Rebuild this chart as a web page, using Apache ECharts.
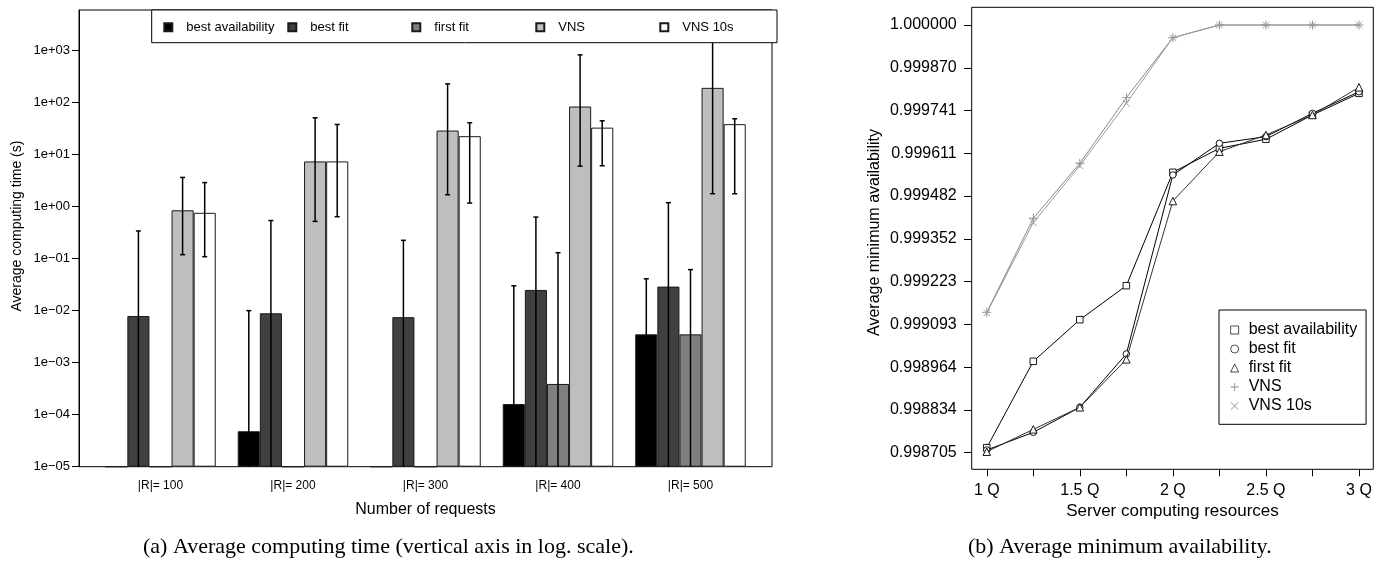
<!DOCTYPE html>
<html><head><meta charset="utf-8">
<script src="https://cdn.jsdelivr.net/npm/echarts@6/dist/echarts.min.js"></script>
<style>html,body{margin:0;padding:0;background:#fff}#c{width:1387px;height:562px}</style>
</head><body><div id="c"></div>
<script>
// ---------- Left chart (a): average computing time (log scale) ----------
const categories = ['|R|= 100', '|R|= 200', '|R|= 300', '|R|= 400', '|R|= 500'];
const barNames = ['best availability', 'best fit', 'first fit', 'VNS', 'VNS 10s'];
const bestAvail = [1e-5, 4.8e-5, 1e-5, 1.6e-4, 3.5e-3];
const bestFit   = [7.9e-3, 8.9e-3, 7.5e-3, 2.5e-2, 2.9e-2];
const firstFit  = [1e-5, 1e-5, 1e-5, 3.9e-4, 3.5e-3];
const vns       = [0.85, 7.4, 29, 84, 192];
const vns10     = [0.76, 7.4, 22.6, 33, 38.5];
// error bar upper / lower ends (0 = extends below the axis, null = no bar)
const bestAvailHi = [null, 0.01, null, 0.030, 0.041];
const bestAvailLo = [null, 0, null, 0, 0];
const bestFitHi   = [0.34, 0.54, 0.225, 0.63, 1.19];
const bestFitLo   = [0, 0, 0, 0, 0];
const firstFitHi  = [null, null, null, 0.13, 0.0615];
const firstFitLo  = [null, null, null, 0, 0];
const vnsHi       = [3.64, 51, 229, 826, 1723];
const vnsLo       = [0.119, 0.52, 1.69, 6.0, 1.77];
const vns10Hi     = [2.9, 38, 41, 44.6, 48.9];
const vns10Lo     = [0.109, 0.64, 1.17, 6.1, 1.77];
const leftTickExps   = [-5, -4, -3, -2, -1, 0, 1, 2, 3];
const leftTickLabels = ['1e\u221205', '1e\u221204', '1e\u221203', '1e\u221202', '1e\u221201', '1e+00', '1e+01', '1e+02', '1e+03'];

// ---------- Right chart (b): average minimum availability ----------
const resources = [1, 1.25, 1.5, 1.75, 2, 2.25, 2.5, 2.75, 3];
const lineNames = ['best availability', 'best fit', 'first fit', 'VNS', 'VNS 10s'];
const availBestAvail = [0.9987202, 0.9989817, 0.9991077, 0.9992107, 0.999554, 0.9996267, 0.999654, 0.9997275, 0.9997931];
const availBestFit   = [0.9987132, 0.9987667, 0.9988424, 0.999004, 0.999546, 0.9996417, 0.999662, 0.9997326, 0.999798];
const availFirstFit  = [0.998708, 0.9987757, 0.9988424, 0.9989877, 0.999467, 0.9996164, 0.999667, 0.9997275, 0.9998113];
const availVNS       = [0.99913, 0.9994147, 0.9995812, 0.99978, 0.9999616, 1.0, 1.0, 1.0, 1.0];
const availVNS10     = [0.999128, 0.9994014, 0.999574, 0.9997629, 0.9999616, 1.0, 1.0, 1.0, 1.0];
const rightTickVals   = [0.998705, 0.9988345, 0.998964, 0.9990935, 0.999223, 0.9993525, 0.999482, 0.9996115, 0.999741, 0.9998705, 1.0];
const rightTickLabels = ['0.998705', '0.998834', '0.998964', '0.999093', '0.999223', '0.999352', '0.999482', '0.999611', '0.999741', '0.999870', '1.000000'];
const rightXTicks  = [1, 1.25, 1.5, 1.75, 2, 2.25, 2.5, 2.75, 3];
const rightXLabelVals = [1, 1.5, 2, 2.5, 3];
const rightXLabels = ['1 Q', '1.5 Q', '2 Q', '2.5 Q', '3 Q'];

// ---------- build ----------
const FONT = 'Liberation Sans, Arial, Helvetica, sans-serif';
const SERIF = 'Liberation Serif, Times New Roman, serif';
const CAT_GAP = 0.166;
const sh = v => Math.log10(v) + 5;     // log10 position above 1e-05
const barVals = [bestAvail, bestFit, firstFit, vns, vns10];
const barHi = [bestAvailHi, bestFitHi, firstFitHi, vnsHi, vns10Hi];
const barLo = [bestAvailLo, bestFitLo, firstFitLo, vnsLo, vns10Lo];
const barColors = ['#000000', '#404040', '#7f7f7f', '#bebebe', '#ffffff'];

const errData = [];
barHi.forEach((arr, k) => arr.forEach((hi, i) => {
  if (hi == null) return;
  const lo = barLo[k][i];
  errData.push([i, k, lo > 0 ? sh(lo) : -1, sh(hi)]);
}));

function renderErr(params, api) {
  const ci = api.value(0), k = api.value(1), lo = api.value(2), hi = api.value(3);
  const band = api.size([1, 0])[0];
  const bw = band * (1 - CAT_GAP) / 5;
  const x = api.coord([ci, 0])[0] + (k - 2) * bw;
  const yTop = api.coord([ci, hi])[1];
  const yBot = api.coord([ci, Math.max(lo, 0)])[1];
  const st = { stroke: '#000', lineWidth: 1.5 };
  const ch = [
    { type: 'line', shape: { x1: x, y1: yTop, x2: x, y2: yBot }, style: st },
    { type: 'line', shape: { x1: x - 2.5, y1: yTop, x2: x + 2.5, y2: yTop }, style: st }
  ];
  if (lo > 0) ch.push({ type: 'line', shape: { x1: x - 2.5, y1: yBot, x2: x + 2.5, y2: yBot }, style: st });
  return { type: 'group', children: ch };
}

const leftTickVals = leftTickExps.map(e => e + 5);
const barSeries = barNames.map((n, k) => ({
  name: n, type: 'bar', xAxisIndex: 0, yAxisIndex: 0,
  barGap: '0%', barCategoryGap: (CAT_GAP * 100) + '%',
  itemStyle: { color: barColors[k], borderColor: '#1a1a1a', borderWidth: 1 },
  emphasis: { disabled: true },
  data: barVals[k].map(sh)
}));

const PLUS = 'path://M4.5,0H5.5V4.5H10V5.5H5.5V10H4.5V5.5H0V4.5H4.5Z';
const CROSS = 'path://M0,0.7L0.7,0L5,4.3L9.3,0L10,0.7L5.7,5L10,9.3L9.3,10L5,5.7L0.7,10L0,9.3L4.3,5Z';
const lineVals = [availBestAvail, availBestFit, availFirstFit, availVNS, availVNS10];
const lineSym = ['rect', 'circle', 'triangle', PLUS, CROSS];
const lineSymSize = [6.5, 6.5, 7.5, 9, 7];
const lineCol = ['#000000', '#000000', '#333333', '#8a8a8a', '#9a9a9a'];
const lineSeries = lineNames.map((n, k) => ({
  name: n + ' ', type: 'line', xAxisIndex: 1, yAxisIndex: 1,
  symbol: lineSym[k], symbolSize: lineSymSize[k], showSymbol: true,
  lineStyle: { color: lineCol[k], width: 1 },
  itemStyle: k < 3 ? { color: '#ffffff', borderColor: '#000', borderWidth: 0.9 }
                   : { color: lineCol[k], borderWidth: 0 },
  emphasis: { disabled: true },
  z: 3 + k,
  data: resources.map((x, i) => [x, lineVals[k][i]])
}));

const option = {
  animation: false,
  backgroundColor: '#ffffff',
  title: [
    { text: '(a) Average computing time (vertical axis in log. scale).', left: 143, top: 536, padding: 0,
      textStyle: { fontFamily: SERIF, fontSize: 22, fontWeight: 'normal', color: '#000' } },
    { text: '(b) Average minimum availability.', left: 968, top: 536, padding: 0,
      textStyle: { fontFamily: SERIF, fontSize: 22, fontWeight: 'normal', color: '#000' } }
  ],
  legend: [
    {
      orient: 'horizontal', left: 151.7, top: 10, padding: [10.8, 0, 8.9, 11.6],
      itemWidth: 8, itemHeight: 8, itemGap: 0, selectedMode: false,
      borderColor: '#000', borderWidth: 1, backgroundColor: '#fff', z: 10,
      textStyle: { fontFamily: FONT, fontSize: 13, color: '#000', width: 101, padding: [0, 0, 0, 9], lineHeight: 13 },
      data: barNames.map((n, i) => i === 4 ? { name: n, icon: 'rect', textStyle: { width: 94.7 } } : { name: n, icon: 'rect' })
    },
    {
      orient: 'vertical', left: 1219, top: 310, padding: [10.5, 8.9, 8.8, 11.3],
      itemWidth: 8, itemHeight: 8, itemGap: 0, selectedMode: false,
      borderColor: '#000', borderWidth: 1, backgroundColor: '#fff', z: 10,
      itemStyle: { borderWidth: 0.7 },
      textStyle: { fontFamily: FONT, fontSize: 16, color: '#000', padding: [0, 0, 0, 5], lineHeight: 19 },
      formatter: n => n.trim(),
      data: lineNames.map((n, k) => ({ name: n + ' ', icon: lineSym[k],
        itemStyle: k < 3 ? { borderWidth: 0.7 } : { borderWidth: 0 } }))
    }
  ],
  grid: [
    { left: 94.25, right: 1387 - 756.75, top: 10, bottom: 562 - 466.7, show: false },
    { left: 971.7, right: 1387 - 1373.3, top: 7.3, bottom: 562 - 469.3, show: true, borderColor: '#000', borderWidth: 1, backgroundColor: 'transparent' },
    { left: 79, right: 1387 - 772, top: 10, bottom: 562 - 466.7, show: true, borderColor: '#000', borderWidth: 1, backgroundColor: 'transparent' }
  ],
  xAxis: [
    { type: 'category', gridIndex: 0, data: categories, boundaryGap: true,
      axisLine: { show: false }, axisTick: { show: false },
      axisLabel: { fontFamily: FONT, fontSize: 12, color: '#000', margin: 13 },
      name: 'Number of requests', nameLocation: 'middle', nameGap: 34.6,
      nameTextStyle: { fontFamily: FONT, fontSize: 16, color: '#000' } },
    { type: 'value', gridIndex: 1, min: 0.919, max: 3.077, splitLine: { show: false },
      axisLine: { show: false },
      axisTick: { show: true, length: 7, customValues: rightXTicks, lineStyle: { color: '#000' } },
      axisLabel: { customValues: rightXLabelVals, fontFamily: FONT, fontSize: 16, color: '#000', margin: 13,
        formatter: v => { const i = rightXLabelVals.indexOf(v); return i >= 0 ? rightXLabels[i] : ''; } },
      name: 'Server computing resources', nameLocation: 'middle', nameGap: 31,
      nameTextStyle: { fontFamily: FONT, fontSize: 17, color: '#000' } },
    { type: 'value', gridIndex: 2, show: false }
  ],
  yAxis: [
    { type: 'value', gridIndex: 0, min: 0, max: 8.78, offset: 94.25 - 79, splitLine: { show: false },
      axisLine: { show: true, lineStyle: { color: '#000' } },
      axisTick: { show: true, length: 7, customValues: leftTickVals, lineStyle: { color: '#000' } },
      axisLabel: { customValues: leftTickVals, fontFamily: FONT, fontSize: 13, color: '#000', margin: 9,
        formatter: v => { const i = leftTickVals.findIndex(t => Math.abs(t - v) < 1e-9); return i >= 0 ? leftTickLabels[i] : ''; } },
      name: 'Average computing time (s)', nameLocation: 'middle', nameGap: 54.5,
      nameTextStyle: { fontFamily: FONT, fontSize: 14, color: '#000', padding: [0, 0, 0, 24.6] } },
    { type: 'value', gridIndex: 1, min: 0.99865475, max: 1.0000536, splitLine: { show: false },
      axisLine: { show: false },
      axisTick: { show: true, length: 7.7, customValues: rightTickVals, lineStyle: { color: '#000' } },
      axisLabel: { customValues: rightTickVals, fontFamily: FONT, fontSize: 16, color: '#000', margin: 15,
        formatter: v => { const i = rightTickVals.findIndex(t => Math.abs(t - v) < 1e-10); return i >= 0 ? rightTickLabels[i] : ''; } },
      name: 'Average minimum availability', nameLocation: 'middle', nameGap: 88.7,
      nameTextStyle: { fontFamily: FONT, fontSize: 16, color: '#000', padding: [0, 0, 0, 11.6] } },
    { type: 'value', gridIndex: 2, show: false }
  ],
  series: [
    ...barSeries,
    { name: 'error bars', type: 'custom', xAxisIndex: 0, yAxisIndex: 0, z: 5,
      renderItem: renderErr, encode: { x: 0, y: [2, 3] }, data: errData, silent: true },
    ...lineSeries
  ]
};
const chart = echarts.init(document.getElementById('c'), null, { renderer: 'canvas' });
chart.setOption(option);
</script></body></html>
